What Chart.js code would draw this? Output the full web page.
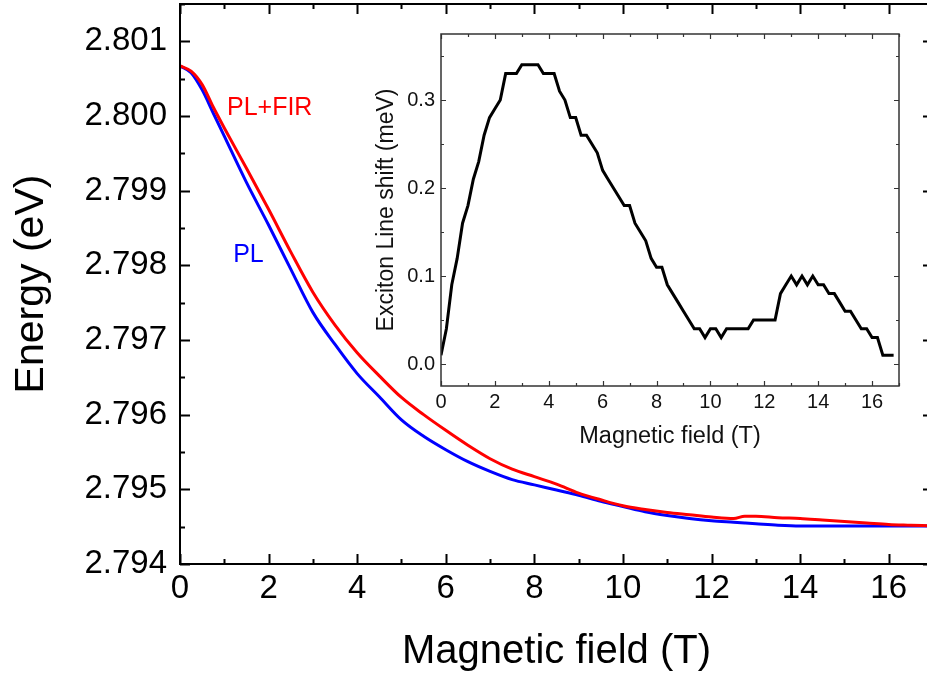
<!DOCTYPE html>
<html>
<head>
<meta charset="utf-8">
<script src="https://cdn.jsdelivr.net/npm/chart.js@4.4.1/dist/chart.umd.min.js"></script>
<style>
  html, body { margin: 0; padding: 0; background: #fff; overflow: hidden; }
  #wrap { position: relative; width: 945px; height: 673px; }
  #inset { position: absolute; left: 360px; top: 0; }
</style>
</head>
<body>
<div id="wrap">
  <canvas id="main" width="945" height="673"></canvas>
  <canvas id="inset" width="567" height="460"></canvas>
</div>
<script>
// Exciton energy vs magnetic field, with and without FIR illumination
const field = [0, 0.25, 0.5, 0.75, 1, 1.5, 2, 2.5, 3, 3.5, 4, 4.5, 5, 5.5, 6, 6.5, 7, 7.5, 8, 8.5,
  9, 9.5, 10, 10.5, 11, 11.5, 12, 12.5, 12.75, 13, 13.5, 14, 14.5, 15, 15.5, 16, 16.5, 17];
const energyPlFir = [2.80067, 2.80060, 2.80042, 2.80012, 2.79984, 2.79930, 2.79875, 2.79818, 2.79764,
  2.79720, 2.79683, 2.79652, 2.79623, 2.79600, 2.79579, 2.79559, 2.79541, 2.79527, 2.79517, 2.79507,
  2.79495, 2.79486, 2.79478, 2.79473, 2.79469, 2.79466, 2.79463, 2.79461, 2.79464, 2.79464, 2.79462,
  2.79461, 2.79459, 2.79457, 2.79455, 2.79453, 2.79452, 2.79451];
const energyPl = [2.80067, 2.80058, 2.80035, 2.80004, 2.79973, 2.79911, 2.79854, 2.79795, 2.79737,
  2.79694, 2.79655, 2.79624, 2.79593, 2.79571, 2.79553, 2.79537, 2.79524, 2.79513, 2.79506, 2.79499,
  2.79492, 2.79484, 2.79477, 2.79470, 2.79465, 2.79461, 2.79458, 2.79456, 2.79455, 2.79454, 2.79452,
  2.79451, 2.79451, 2.79451, 2.79451, 2.79451, 2.79451, 2.79451];
const energyTicks = [2.794, 2.795, 2.796, 2.797, 2.798, 2.799, 2.800, 2.801];
const fieldTicks = [0, 2, 4, 6, 8, 10, 12, 14, 16];

// Inset: line shift (PL+FIR minus PL)
const shiftField = [0, 0.2, 0.4, 0.6, 0.8, 1.0, 1.2, 1.4, 1.6, 1.8, 2.0, 2.2, 2.4, 2.6, 2.8, 3.0, 3.2,
  3.4, 3.6, 3.8, 4.0, 4.2, 4.4, 4.6, 4.8, 5.0, 5.2, 5.4, 5.6, 5.8, 6.0, 6.2, 6.4, 6.6, 6.8, 7.0, 7.2,
  7.4, 7.6, 7.8, 8.0, 8.2, 8.4, 8.6, 8.8, 9.0, 9.2, 9.4, 9.6, 9.8, 10.0, 10.2, 10.4, 10.6, 10.8, 11.0,
  11.2, 11.4, 11.6, 11.8, 12.0, 12.2, 12.4, 12.6, 12.8, 13.0, 13.2, 13.4, 13.6, 13.8, 14.0, 14.2, 14.4,
  14.6, 14.8, 15.0, 15.2, 15.4, 15.6, 15.8, 16.0, 16.2, 16.4, 16.6, 16.8];
const shift = [0.01, 0.04, 0.09, 0.12, 0.16, 0.18, 0.21, 0.23, 0.26, 0.28, 0.29, 0.30, 0.33, 0.33, 0.33,
  0.34, 0.34, 0.34, 0.34, 0.33, 0.33, 0.33, 0.31, 0.30, 0.28, 0.28, 0.26, 0.26, 0.25, 0.24, 0.22, 0.21,
  0.20, 0.19, 0.18, 0.18, 0.16, 0.15, 0.14, 0.12, 0.11, 0.11, 0.09, 0.08, 0.07, 0.06, 0.05, 0.04, 0.04,
  0.03, 0.04, 0.04, 0.03, 0.04, 0.04, 0.04, 0.04, 0.04, 0.05, 0.05, 0.05, 0.05, 0.05, 0.08, 0.09, 0.10,
  0.09, 0.10, 0.09, 0.10, 0.09, 0.09, 0.08, 0.08, 0.07, 0.06, 0.06, 0.05, 0.04, 0.04, 0.03, 0.03, 0.01,
  0.01, 0.01];
const shiftTicks = [0.0, 0.1, 0.2, 0.3];

const FONT = '"Liberation Sans", Arial, Helvetica, sans-serif';

const toXY = (xs, ys) => xs.map((x, i) => ({ x: x, y: ys[i] }));

// box frame with inward major/minor ticks on all four sides
const frameTicks = {
  id: 'frameTicks',
  afterDraw(chart, args, o) {
    const { ctx, chartArea: a, scales: { x, y } } = chart;
    ctx.save();
    ctx.strokeStyle = o.color;
    ctx.lineWidth = o.width;
    ctx.strokeRect(a.left, a.top, a.right - a.left, a.bottom - a.top);
    ctx.beginPath();
    for (let i = 0; ; i++) {
      const v = x.min + i * o.xMinor;
      if (v > x.max + 1e-9) break;
      const px = Math.round(x.getPixelForValue(v)) + 0.5;
      const len = i % o.xEvery === 0 ? o.major : o.minor;
      ctx.moveTo(px, a.bottom); ctx.lineTo(px, a.bottom - len);
      ctx.moveTo(px, a.top); ctx.lineTo(px, a.top + len);
    }
    for (let i = 0; ; i++) {
      const v = o.yStart + i * o.yMinor;
      if (v > y.max + 1e-12) break;
      if (v < y.min - 1e-12) continue;
      const py = Math.round(y.getPixelForValue(v)) + 0.5;
      const len = i % o.yEvery === 0 ? o.major : o.minor;
      ctx.moveTo(a.left, py); ctx.lineTo(a.left + len, py);
      ctx.moveTo(a.right, py); ctx.lineTo(a.right - len, py);
    }
    ctx.lineWidth = o.tickWidth;
    ctx.stroke();
    ctx.restore();
  }
};

// series names written next to the curves
const curveLabels = {
  id: 'curveLabels',
  afterDatasetsDraw(chart, args, o) {
    const { ctx, scales: { x, y } } = chart;
    ctx.save();
    ctx.font = o.font;
    ctx.textBaseline = 'alphabetic';
    o.items.forEach(it => {
      ctx.fillStyle = it.color;
      ctx.fillText(it.text, x.getPixelForValue(it.x), y.getPixelForValue(it.y));
    });
    ctx.restore();
  }
};

function fixedTicks(values) {
  return scale => { scale.ticks = values.map(v => ({ value: v })); };
}

// pin the axis thickness and drop the label overhang padding
function fitX(h) {
  return s => { s.height = h; s.paddingLeft = 0; s.paddingRight = 0; };
}
function fitY(w) {
  return s => { s.width = w; s.paddingTop = 0; s.paddingBottom = 0; };
}

new Chart(document.getElementById('main'), {
  type: 'line',
  data: {
    datasets: [
      { data: toXY(field, energyPlFir), borderColor: '#ff0000', borderWidth: 3, pointRadius: 0,
        cubicInterpolationMode: 'monotone' },
      { data: toXY(field, energyPl), borderColor: '#0000ff', borderWidth: 3, pointRadius: 0,
        cubicInterpolationMode: 'monotone' }
    ]
  },
  options: {
    responsive: false,
    animation: false,
    events: [],
    layout: { padding: { left: 0, top: 4, right: 12, bottom: 0 } },
    scales: {
      x: {
        type: 'linear', min: 0, max: 17,
        afterBuildTicks: fixedTicks(fieldTicks),
        afterFit: fitX(109),
        grid: { display: false, drawTicks: false },
        border: { display: false },
        ticks: { autoSkip: false, maxRotation: 0, padding: 5, color: '#000',
          font: { family: FONT, size: 33 }, callback: v => String(v) },
        title: { display: true, text: 'Magnetic field (T)', color: '#000',
          font: { family: FONT, size: 40, lineHeight: 1 }, padding: { top: 0, bottom: 1 } }
      },
      y: {
        type: 'linear', min: 2.794, max: 2.8015,
        afterBuildTicks: fixedTicks(energyTicks),
        afterFit: fitY(180),
        grid: { display: false, drawTicks: false },
        border: { display: false },
        ticks: { padding: 13, color: '#000', font: { family: FONT, size: 33 },
          callback: v => v.toFixed(3) },
        title: { display: true, text: 'Energy (eV)', color: '#000',
          font: { family: FONT, size: 41, lineHeight: 1 }, padding: { top: 11, bottom: 0 } }
      }
    },
    plugins: {
      legend: { display: false },
      tooltip: { enabled: false },
      frameTicks: { color: '#000', width: 2, tickWidth: 2, major: 10, minor: 5,
        xMinor: 1, xEvery: 2, yStart: 2.794, yMinor: 0.0005, yEvery: 2 },
      curveLabels: { font: '25px ' + FONT, items: [
        { text: 'PL+FIR', x: 1.06, y: 2.80002, color: '#ff0000' },
        { text: 'PL', x: 1.2, y: 2.79804, color: '#0000ff' }
      ] }
    }
  },
  plugins: [frameTicks, curveLabels]
});

new Chart(document.getElementById('inset'), {
  type: 'line',
  data: {
    datasets: [
      { data: toXY(shiftField, shift), borderColor: '#000', borderWidth: 3, pointRadius: 0,
        tension: 0, borderJoinStyle: 'miter' }
    ]
  },
  options: {
    responsive: false,
    animation: false,
    events: [],
    layout: { padding: { left: 0, top: 34, right: 28, bottom: 0 } },
    scales: {
      x: {
        type: 'linear', min: 0, max: 17,
        afterBuildTicks: fixedTicks(fieldTicks),
        afterFit: fitX(74),
        grid: { display: false, drawTicks: false },
        border: { display: false },
        ticks: { autoSkip: false, maxRotation: 0, padding: 4, color: '#111',
          font: { family: FONT, size: 20 }, callback: v => String(v) },
        title: { display: true, text: 'Magnetic field (T)', color: '#111',
          font: { family: FONT, size: 23.5 }, padding: { top: 0, bottom: 9 } }
      },
      y: {
        type: 'linear', min: -0.025, max: 0.375,
        afterBuildTicks: fixedTicks(shiftTicks),
        afterFit: fitY(81),
        grid: { display: false, drawTicks: false },
        border: { display: false },
        ticks: { padding: 6, color: '#111', font: { family: FONT, size: 20 },
          callback: v => v.toFixed(1) },
        title: { display: true, text: 'Exciton Line shift (meV)', color: '#111',
          font: { family: FONT, size: 23 }, padding: { top: 13, bottom: 0 } }
      }
    },
    plugins: {
      legend: { display: false },
      tooltip: { enabled: false },
      frameTicks: { color: '#333', width: 1.5, tickWidth: 1.2, major: 5, minor: 3,
        xMinor: 1, xEvery: 2, yStart: 0, yMinor: 0.05, yEvery: 2 }
    }
  },
  plugins: [frameTicks]
});
</script>
</body>
</html>
